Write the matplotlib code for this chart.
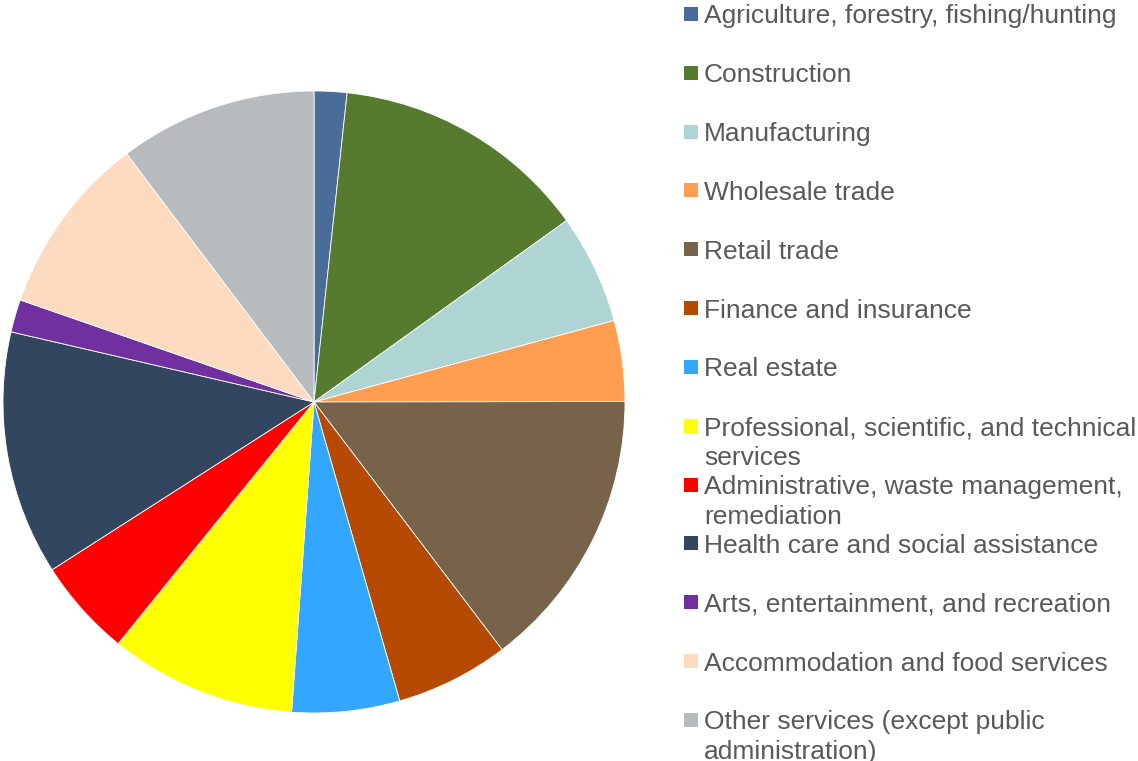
import matplotlib
matplotlib.use('Agg')
import matplotlib.pyplot as plt
from matplotlib.patches import Rectangle

# Industry shares (%), clockwise from 12 o'clock
labels = ['Agriculture, forestry, fishing/hunting', 'Construction', 'Manufacturing',
          'Wholesale trade', 'Retail trade', 'Finance and insurance', 'Real estate',
          'Professional, scientific, and technical\nservices',
          'Administrative, waste management,\nremediation',
          'Health care and social assistance', 'Arts, entertainment, and recreation',
          'Accommodation and food services',
          'Other services (except public\nadministration)']
shares = [1.7, 13.4, 5.7, 4.2, 14.7, 5.9, 5.6, 9.7, 5.1, 12.7, 1.7, 9.4, 10.3]
colors = ['#4A6C98', '#567A2E', '#AED4D3', '#FF9E50', '#77634A', '#B64A02', '#33A7FF',
          '#FFFF00', '#FF0000', '#32475F', '#7030A0', '#FDDBC0', '#B8BBBE']

W, H = 1138, 761
fig = plt.figure(figsize=(W / 100, H / 100), dpi=100)
plt.rcParams['font.family'] = ['Liberation Sans', 'DejaVu Sans']

# pie centre (314, 402) px, radius 311 px
cx, cy, r = 314, 402, 311
ax = fig.add_axes([(cx - r) / W, (H - cy - r) / H, 2 * r / W, 2 * r / H])
ax.pie(shares, colors=colors, startangle=90, counterclock=False, radius=1,
       wedgeprops=dict(edgecolor='white', linewidth=0.6))
ax.set_xlim(-1, 1)
ax.set_ylim(-1, 1)
ax.set_aspect('equal')
ax.axis('off')

# legend drawn by hand: fixed slot height, wrapped labels hang below
y0, step, line_h = 14, 58.83, 30
for i, (lab, col) in enumerate(zip(labels, colors)):
    y = y0 + i * step
    fig.add_artist(Rectangle((684 / W, (H - y - 7) / H), 14 / W, 14 / H,
                             facecolor=col, edgecolor='none', transform=fig.transFigure))
    for k, line in enumerate(lab.split('\n')):
        fig.text(704 / W, (H - y - 9.5 - k * line_h) / H, line, fontsize=19,
                 color='#595959', va='baseline', ha='left')

fig.savefig('out.png', dpi=100)
